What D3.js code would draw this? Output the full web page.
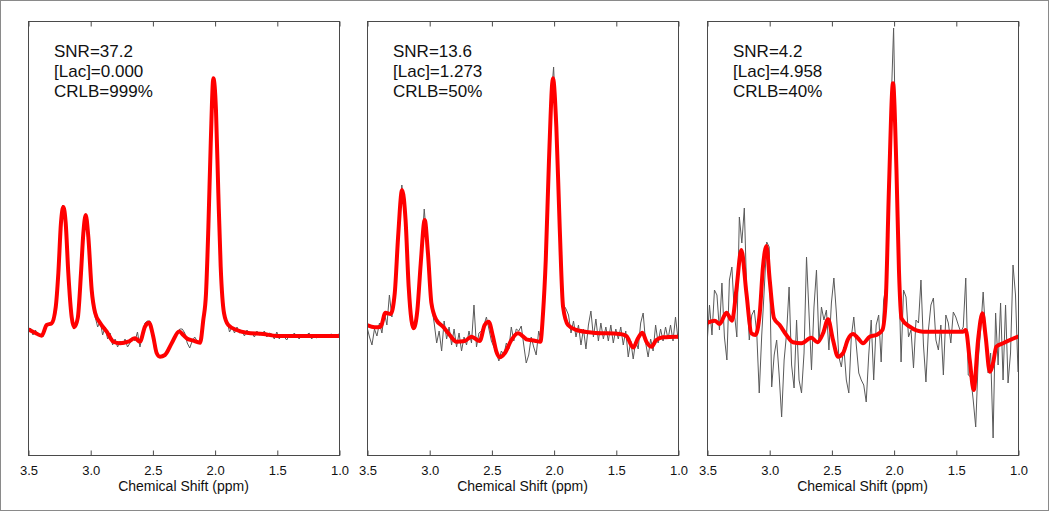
<!DOCTYPE html>
<html>
<head>
<meta charset="utf-8">
<script src="https://cdn.jsdelivr.net/npm/d3@7"></script>
<style>
  html, body { margin: 0; padding: 0; background: #fff; }
  svg { display: block; font-family: "Liberation Sans", Arial, Helvetica, sans-serif; }
</style>
</head>
<body>
<svg id="chart" width="1050" height="512"></svg>
<script>
// ---------------- DATA ----------------
const xTicks = [3.5, 3.0, 2.5, 2.0, 1.5, 1.0];
const axisTitle = "Chemical Shift (ppm)";
const snrLabels = ["SNR=37.2", "SNR=13.6", "SNR=4.2"];
const lacLabels = ["[Lac]=0.000", "[Lac]=1.273", "[Lac]=4.958"];
const crlbLabels = ["CRLB=999%", "CRLB=50%", "CRLB=40%"];

// measured spectra (gray), sampled every 0.02 ppm from 3.50 down to 1.00
const grayP1 = [
  2, 7, 0, 5, -1, 1, -2, 8, 11, 12,
  15, 25, 56, 100, 130, 118, 72, 35, 13, 10,
  17, 51, 92, 118, 104, 70, 36, 18, 8, 14,
  0, 8, -4, 2, -10, -4, -12, -6, -10, -4,
  -12, -8, -2, -6, 3, -12, 0, 12, 14, 14,
  4, -6, -20, -22, -21, -20, -17, -13, -6, -2,
  2, 6, 6, 2, -8, -13, -6, -2, -6, -8,
  6, 30, 72, 150, 240, 255, 188, 105, 47, 18,
  14, 3, 8, 2, 8, 2, 4, -1, 5, 1,
  2, -2, 4, 0, 1, 4, -2, 2, 1, -4,
  3, -4, 1, -2, -5, 0, -3, 2, -1, -4,
  1, -2, 0, 2, -4, -1, -3, 1, -2, 0,
  -3, 0, 1, -2, 0, 1
];
const grayP2 = [
  8, -2, -10, 6, -1, 12, 2, 22, 10, 40,
  18, 45, 80, 120, 150, 126, 78, 40, 12, 10,
  20, 55, 88, 126, 96, 55, 28, 12, -8, 4,
  -16, 14, -4, 8, -10, 6, -12, 2, -16, -2,
  -10, 4, -8, 30, -12, 2, 4, 10, 18, 6,
  -6, -12, -18, -26, -16, -20, -8, -14, 8, -6,
  6, 4, 9, -10, -28, -20, -2, -12, -20, 4,
  -6, 36, 88, 168, 236, 268, 212, 138, 76, 30,
  26, 20, 2, 14, -2, 10, -10, 6, -14, 10,
  24, -2, 16, -6, 12, -4, 8, -6, 10, -8,
  6, -4, 8, -10, 4, -22, -6, -24, -6, -14,
  12, 22, -8, -22, -4, -16, 10, -8, 6, -6,
  8, -4, 10, -6, 18, -4
];
const grayP3 = [
  -10, 30, 0, 45, 40, 5, 52, -2, -25, 55,
  68, 22, -2, 118, 92, 127, 40, -5, 20, 25,
  2, -58, 0, 45, 93, 88, -52, -20, -5, -40,
  -82, -25, 2, 48, -30, -53, 15, -45, -58, -18,
  78, 22, -35, 28, 65, -8, 28, 15, 25, -15,
  32, 57, 22, -22, -32, -12, -45, -58, -2, 18,
  -10, -38, -45, -50, -67, -20, 15, -45, 10, 20,
  -27, 35, 50, 140, 230, 307, 170, 70, -27, 45,
  38, -2, 5, -33, 15, 12, 55, -10, -47, 5,
  30, 37, -5, -15, 10, -40, 20, 12, -8, 23,
  18, 10, 3, 8, 57, -40, -42, -65, -92, -25,
  5, 43, 0, -38, -18, -103, 22, -30, 32, -45,
  30, -48, -18, 70, 40, -37
];

// fitted spectra (red), [ppm, intensity]
const fitP1 = [[3.50,5.7],[3.444,2.3],[3.39,-0.7],[3.35,10],[3.31,11.7],[3.277,28],[3.256,62],[3.235,112],[3.216,128],[3.197,112],[3.176,62],[3.149,18],[3.128,7.7],[3.10,17],[3.074,62],[3.055,102],[3.036,120],[3.015,98],[2.988,45],[2.96,22],[2.92,12],[2.867,3.3],[2.814,-6.7],[2.76,-8.3],[2.694,-6.7],[2.64,-3.3],[2.60,-6.7],[2.56,8.3],[2.527,12.3],[2.493,-1.7],[2.466,-18],[2.439,-21.7],[2.399,-20],[2.345,-8.3],[2.285,3.5],[2.252,0],[2.224,-3.3],[2.171,-5.7],[2.117,-7.7],[2.091,15],[2.069,41.7],[2.05,108],[2.031,191.7],[2.01,256.7],[1.989,225],[1.97,141.7],[1.951,68.3],[1.924,21.7],[1.89,10],[1.822,5],[1.742,2.3],[1.608,1],[1.50,-1],[1.0,-1]];
const fitP2 = [[3.50,10],[3.438,7.7],[3.39,8.3],[3.352,22.3],[3.31,21],[3.277,41.7],[3.25,98],[3.218,145],[3.19,115],[3.165,48.3],[3.143,15],[3.125,6.7],[3.095,25],[3.068,71.7],[3.036,115],[3.01,81.7],[2.982,31.7],[2.942,15],[2.889,8.3],[2.835,0],[2.781,-6.7],[2.715,-6],[2.66,-1.7],[2.594,-6],[2.554,10],[2.522,13.3],[2.487,-1.7],[2.46,-16.7],[2.433,-22.3],[2.393,-18.3],[2.339,-5],[2.286,1.7],[2.24,-2],[2.219,-4.3],[2.152,-5.7],[2.106,-6.7],[2.085,21.7],[2.063,75],[2.037,175],[2.005,256.7],[1.978,208],[1.951,108],[1.924,28.3],[1.884,10],[1.817,5],[1.683,2.3],[1.469,1],[1.415,-1],[1.36,-12.5],[1.322,-3.3],[1.286,2.3],[1.254,-6.7],[1.214,-11.7],[1.174,-5],[1.12,-2.3],[1.0,-1.7]];
const fitP3 = [[3.50,12],[3.438,14.3],[3.398,11],[3.344,22.3],[3.299,14.3],[3.264,45],[3.224,85],[3.183,41.7],[3.143,1.7],[3.111,0],[3.076,21.7],[3.05,68.3],[3.022,89],[2.996,55],[2.961,16.7],[2.916,10],[2.862,0],[2.809,-7.3],[2.741,-8.3],[2.661,-2.7],[2.612,-7.3],[2.567,1.7],[2.527,15.7],[2.487,-5],[2.447,-21.7],[2.407,-18.3],[2.367,-4.3],[2.326,1],[2.286,-3.3],[2.246,-8.3],[2.192,-1.7],[2.138,0],[2.09,5],[2.063,35],[2.037,148],[2.005,251.7],[1.977,165],[1.957,65],[1.937,16.7],[1.87,8.3],[1.763,3.3],[1.442,3.3],[1.42,5],[1.388,-25],[1.356,-55],[1.321,-5],[1.286,21.7],[1.26,-1.7],[1.227,-36.7],[1.201,-28.3],[1.174,-11.7],[1.12,-8.3],[1.0,-1.7]];

// sampling grid for the measured spectra (ppm)
const ppmGrid = d3.range(grayP1.length).map(i => +(3.5 - 0.02 * i).toFixed(2));
const xDomain = [3.5, 1.0];
const yDomain = [-120, 314];

// ---------------- LAYOUT ----------------
const W = 1050, H = 512;
const panelLeft = [28, 367, 707];
const panelW = 311, panelTop = 21, panelH = 434;

const svg = d3.select("#chart");

svg.append("rect")
  .attr("x", 0.5).attr("y", 0.5).attr("width", W - 2).attr("height", H - 2)
  .attr("fill", "none").attr("stroke", "#8a8a8a").attr("stroke-width", 1);

const panels = [
  { gray: grayP1, fit: fitP1, snr: snrLabels[0], lac: lacLabels[0], crlb: crlbLabels[0] },
  { gray: grayP2, fit: fitP2, snr: snrLabels[1], lac: lacLabels[1], crlb: crlbLabels[1] },
  { gray: grayP3, fit: fitP3, snr: snrLabels[2], lac: lacLabels[2], crlb: crlbLabels[2] }
];

panels.forEach((p, k) => {
  const g = svg.append("g").attr("transform", `translate(${panelLeft[k]},${panelTop})`);
  const x = d3.scaleLinear().domain(xDomain).range([0, panelW]);
  const y = d3.scaleLinear().domain(yDomain).range([panelH, 0]);

  const clipId = "clip" + k;
  g.append("clipPath").attr("id", clipId)
    .append("rect").attr("x", 0).attr("y", 0).attr("width", panelW).attr("height", panelH);

  const plot = g.append("g").attr("clip-path", `url(#${clipId})`);

  const grayLine = d3.line().x((d, i) => x(ppmGrid[i])).y(d => y(d));
  plot.append("path").datum(p.gray)
    .attr("d", grayLine)
    .attr("fill", "none").attr("stroke", "#5a5a5a").attr("stroke-width", 1)
    .attr("stroke-linejoin", "round");

  const fitLine = d3.line().x(d => x(d[0])).y(d => y(d[1])).curve(d3.curveMonotoneX);
  plot.append("path").datum(p.fit)
    .attr("d", fitLine)
    .attr("fill", "none").attr("stroke", "#ff0000").attr("stroke-width", 4)
    .attr("stroke-linejoin", "round").attr("stroke-linecap", "round");

  // frame
  g.append("rect")
    .attr("x", 0.5).attr("y", 0.5).attr("width", panelW).attr("height", panelH)
    .attr("fill", "none").attr("stroke", "#4a4a4a").attr("stroke-width", 1);

  // bottom axis with inward ticks
  const axB = g.append("g").attr("transform", `translate(0.5,${panelH + 0.5})`)
    .call(d3.axisBottom(x).tickValues(xTicks).tickFormat(d3.format(".1f"))
      .tickSizeInner(-5).tickSizeOuter(0).tickPadding(10));
  axB.select(".domain").remove();
  axB.selectAll(".tick line").attr("stroke", "#4a4a4a");
  axB.selectAll(".tick text").attr("font-size", 13).attr("fill", "#111")
    .attr("font-family", "Liberation Sans, Arial, sans-serif");

  // top axis with inward ticks
  const axT = g.append("g").attr("transform", `translate(0.5,0.5)`)
    .call(d3.axisTop(x).tickValues(xTicks).tickFormat("")
      .tickSizeInner(-5).tickSizeOuter(0));
  axT.select(".domain").remove();
  axT.selectAll(".tick line").attr("stroke", "#4a4a4a");

  // axis title
  g.append("text")
    .attr("x", panelW / 2).attr("y", 491)
    .attr("transform", `translate(0,${-panelTop})`)
    .attr("text-anchor", "middle").attr("font-size", 14).attr("fill", "#111")
    .text(axisTitle);

  // annotation
  const ann = g.append("g").attr("transform", `translate(26,${-panelTop})`);
  [p.snr, p.lac, p.crlb].forEach((t, j) => {
    ann.append("text").attr("x", 0).attr("y", 57 + j * 20)
      .attr("font-size", 17).attr("fill", "#111").text(t);
  });
});
</script>
</body>
</html>
